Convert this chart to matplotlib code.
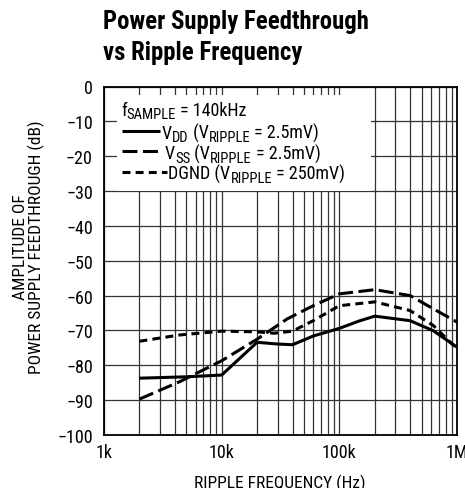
import matplotlib
matplotlib.use("Agg")
import matplotlib.pyplot as plt
from matplotlib import font_manager
from matplotlib.patches import Rectangle
from matplotlib.transforms import IdentityTransform
from matplotlib.ticker import LogLocator, FixedLocator, NullFormatter

# condensed sans, close to the Helvetica Condensed of the datasheet
names = {f.name for f in font_manager.fontManager.ttflist}
FONT = "Roboto Condensed" if "Roboto Condensed" in names else "Liberation Sans"
plt.rcParams["font.family"] = [FONT, "DejaVu Sans"]

# data (Hz, dB)
freq_vdd = [2e3, 5e3, 10e3, 20e3, 30e3, 40e3, 60e3, 100e3, 150e3, 200e3, 400e3, 630e3, 1e6]
amp_vdd = [-83.7, -83.3, -82.8, -73.4, -73.9, -74.1, -71.6, -69.4, -67.2, -65.9, -67.2, -70.1, -74.8]

freq_vss = [2e3, 4.4e3, 10e3, 20e3, 36e3, 60e3, 100e3, 200e3, 400e3, 630e3, 1e6]
amp_vss = [-89.7, -84.7, -78.7, -72.5, -66.7, -62.9, -59.5, -58.3, -60.0, -63.8, -67.6]

freq_dgnd = [2e3, 4.4e3, 10e3, 20e3, 28e3, 40e3, 60e3, 100e3, 200e3, 400e3, 630e3, 1e6]
amp_dgnd = [-73.1, -71.3, -70.2, -70.4, -70.8, -70.2, -67.2, -62.9, -61.8, -64.3, -68.6, -75.3]

x_ticks = [1e3, 1e4, 1e5, 1e6]
x_labels = ["1k", "10k", "100k", "1M"]
y_ticks = list(range(-100, 1, 10))

W, H = 465, 489
fig = plt.figure(figsize=(W / 100, H / 100), dpi=100)
ax = fig.add_axes([104 / W, 1 - 436 / H, 353 / W, 348.5 / H])

ax.set_xscale("log")
ax.set_xlim(1e3, 1e6)
ax.set_ylim(-100, 0)
ax.xaxis.set_major_locator(FixedLocator(x_ticks))
ax.set_xticklabels(x_labels)
ax.xaxis.set_minor_locator(LogLocator(base=10, subs=range(2, 10)))
ax.xaxis.set_minor_formatter(NullFormatter())
ax.set_yticks(y_ticks)
ax.set_yticklabels([str(v).replace("-", "\u2212") for v in y_ticks])
ax.tick_params(which="both", length=0, labelsize=13, pad=6)
ax.tick_params(axis="y", pad=8)
ax.grid(True, which="both", color="#333333", linewidth=0.9)
ax.set_axisbelow(True)
for s in ax.spines.values():
    s.set_linewidth(1.3)

ax.plot(freq_vdd, amp_vdd, color="black", lw=2.2, solid_capstyle="butt", zorder=3)
ax.plot(freq_vss, amp_vss, color="black", lw=2.2, dashes=(4.9, 1.8), zorder=3)
ax.plot(freq_dgnd, amp_dgnd, color="black", lw=2.2, dashes=(2.6, 1.7), zorder=3)

# legend box covers the grid (200k line stays visible)
ax.add_patch(Rectangle((0.037, 0.70), 0.718, 0.277, transform=ax.transAxes,
                       facecolor="white", edgecolor="none", zorder=1))

renderer = fig.canvas.get_renderer()


def rich(x, y_img, pieces):
    """Text with real-size subscripts, placed piece by piece in pixels."""
    y = H - y_img
    for s, size, dy in pieces:
        t = fig.text(x, y - dy, s, transform=IdentityTransform(), fontsize=size,
                     va="baseline", ha="left", zorder=5)
        x += t.get_window_extent(renderer).width


MAIN, SUB, DROP = 13, 10.5, 3.5
rich(121, 116, [("f", MAIN, 0), ("SAMPLE", SUB, DROP), (" = 140kHz", MAIN, 0)])
rows = [
    (132, 139, "-", 160, [("V", MAIN, 0), ("DD", SUB, DROP), (" (V", MAIN, 0),
                           ("RIPPLE", SUB, DROP), (" = 2.5mV)", MAIN, 0)]),
    (152, 159.5, (4.9, 1.8), 163, [("V", MAIN, 0), ("SS", SUB, DROP), (" (V", MAIN, 0),
                                    ("RIPPLE", SUB, DROP), (" = 2.5mV)", MAIN, 0)]),
    (172.5, 179.5, (2.6, 1.7), 166.5, [("DGND (V", MAIN, 0), ("RIPPLE", SUB, DROP),
                                        (" = 250mV)", MAIN, 0)]),
]
for y_line, y_base, style, x_end, pieces in rows:
    kw = dict(solid_capstyle="butt") if style == "-" else dict(dashes=style)
    fig.add_artist(plt.Line2D([122 / W, x_end / W], [1 - y_line / H, 1 - y_line / H],
                              color="black", lw=2.2, zorder=5, **kw))
    rich(x_end + 2, y_base, pieces)

fig.text(103 / W, 1 - 28.5 / H, "Power Supply Feedthrough", fontsize=17.8,
         fontweight="bold", va="baseline", ha="left")
fig.text(103 / W, 1 - 60 / H, "vs Ripple Frequency", fontsize=17.8,
         fontweight="bold", va="baseline", ha="left")

fig.text(29 / W, 1 - 247 / H, "AMPLITUDE OF\nPOWER SUPPLY FEEDTHROUGH (dB)",
         rotation=90, ha="center", va="center", fontsize=12.5, linespacing=0.95)
fig.text(280 / W, 1 - 488 / H, "RIPPLE FREQUENCY (Hz)", ha="center",
         va="baseline", fontsize=12.5)

fig.savefig("out.png", dpi=100)
